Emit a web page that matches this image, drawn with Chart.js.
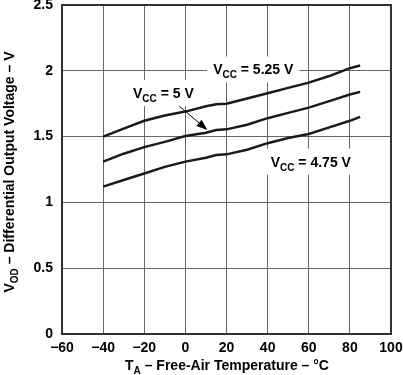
<!DOCTYPE html>
<html><head><meta charset="utf-8">
<script src="https://cdn.jsdelivr.net/npm/chart.js@4/dist/chart.umd.min.js"></script>
<style>html,body{margin:0;padding:0;background:#fff}#wrap{width:403px;height:375px}</style>
</head><body><div id="wrap"><canvas id="c" width="403" height="375"></canvas></div>
<script>
const temps525 = [-40,-30,-20,-10,0,10,15,20,30,40,50,60,70,80,85];
const vcc525   = [1.50,1.56,1.62,1.66,1.69,1.73,1.745,1.75,1.79,1.83,1.87,1.91,1.96,2.02,2.04];
const temps5   = [-40,-30,-20,-10,0,10,15,20,30,40,50,60,70,80,85];
const vcc5     = [1.31,1.37,1.42,1.46,1.505,1.53,1.55,1.555,1.59,1.64,1.68,1.72,1.77,1.82,1.84];
const temps475 = [-40,-30,-20,-10,0,10,15,20,30,40,50,60,70,80,85];
const vcc475   = [1.12,1.17,1.22,1.27,1.31,1.34,1.36,1.365,1.40,1.45,1.49,1.52,1.57,1.62,1.65];
const xTicks = [-60,-40,-20,0,20,40,60,80,100];
const yTicks = [0,0.5,1,1.5,2,2.5];
const labels = [
  {main:'V', sub:'CC', rest:' = 5.25 V', t:33, v:2.01},
  {main:'V', sub:'CC', rest:' = 5 V', t:-10.7, v:1.83},
  {main:'V', sub:'CC', rest:' = 4.75 V', t:61, v:1.31}
];
const arrow = {t0:-2.9, v0:1.73, t1:10.7, v1:1.55};

const toPts = (xs, ys) => xs.map((x,i)=>({x:x, y:ys[i]}));
const FONT = '"Liberation Sans", Arial, sans-serif';

const annot = {
  id:'annot',
  afterDatasetsDraw(chart){
    const ctx = chart.ctx, xs = chart.scales.x, ys = chart.scales.y;
    ctx.save();
    labels.forEach(l=>{
      const cx = xs.getPixelForValue(l.t), cy = ys.getPixelForValue(l.v);
      ctx.font = 'bold 14px ' + FONT;
      const wm = ctx.measureText(l.main).width;
      const wr = ctx.measureText(l.rest).width;
      ctx.font = 'bold 10px ' + FONT;
      const ws = ctx.measureText(l.sub).width;
      const w = wm + ws + wr;
      ctx.fillStyle = '#fff';
      ctx.fillRect(cx - w/2 - 6, cy - 13, w + 12, 26);
      ctx.fillStyle = '#000';
      ctx.textBaseline = 'alphabetic';
      ctx.textAlign = 'left';
      let x = cx - w/2;
      ctx.font = 'bold 14px ' + FONT;
      ctx.fillText(l.main, x, cy + 5); x += wm;
      ctx.font = 'bold 10px ' + FONT;
      ctx.fillText(l.sub, x, cy + 9); x += ws;
      ctx.font = 'bold 14px ' + FONT;
      ctx.fillText(l.rest, x, cy + 5);
    });
    const x0 = xs.getPixelForValue(arrow.t0), y0 = ys.getPixelForValue(arrow.v0);
    const x1 = xs.getPixelForValue(arrow.t1), y1 = ys.getPixelForValue(arrow.v1);
    const ang = Math.atan2(y1-y0, x1-x0);
    ctx.strokeStyle = '#000'; ctx.lineWidth = 1;
    ctx.beginPath(); ctx.moveTo(x0,y0);
    ctx.lineTo(x1 - 8*Math.cos(ang), y1 - 8*Math.sin(ang)); ctx.stroke();
    ctx.fillStyle = '#000';
    ctx.beginPath();
    ctx.moveTo(x1,y1);
    ctx.lineTo(x1 - 11*Math.cos(ang) + 4*Math.sin(ang), y1 - 11*Math.sin(ang) - 4*Math.cos(ang));
    ctx.lineTo(x1 - 11*Math.cos(ang) - 4*Math.sin(ang), y1 - 11*Math.sin(ang) + 4*Math.cos(ang));
    ctx.closePath(); ctx.fill();
    ctx.restore();
  },
  afterDraw(chart){
    const ctx = chart.ctx, a = chart.chartArea;
    ctx.save();
    ctx.strokeStyle = '#333'; ctx.lineWidth = 2;
    ctx.strokeRect(a.left, a.top, a.right-a.left, a.bottom-a.top);
    ctx.fillStyle = '#000';
    ctx.textBaseline = 'alphabetic'; ctx.textAlign = 'left';
    const xparts = [['T',14,0],['A',10,4],[' \u2013 Free-Air Temperature \u2013 \u00B0C',14,0]];
    drawParts(ctx, xparts, 227, 370);
    ctx.translate(14, 172);
    ctx.rotate(-Math.PI/2);
    const yparts = [['V',14,0],['OD',10,4],[' \u2013 Differential Output Voltage \u2013 V',14,0]];
    drawParts(ctx, yparts, 0, 0);
    ctx.restore();
  }
};
function drawParts(ctx, parts, cx, y){
  let w = 0;
  parts.forEach(p=>{ ctx.font = 'bold '+p[1]+'px '+FONT; p.w = ctx.measureText(p[0]).width; w += p.w; });
  let x = cx - w/2;
  parts.forEach(p=>{ ctx.font = 'bold '+p[1]+'px '+FONT; ctx.fillText(p[0], x, y + p[2]); x += p.w; });
}

const ds = (data) => ({data, borderColor:'#1a1a1a', borderWidth:2.5, pointRadius:0, tension:0, fill:false});

new Chart(document.getElementById('c'), {
  type:'line',
  data:{datasets:[ds(toPts(temps525,vcc525)), ds(toPts(temps5,vcc5)), ds(toPts(temps475,vcc475))]},
  options:{
    responsive:false, animation:false, devicePixelRatio:1,
    layout:{padding:{top:5,right:12,left:0,bottom:0}},
    plugins:{legend:{display:false}, tooltip:{enabled:false}},
    scales:{
      x:{type:'linear', min:-60, max:100,
        afterBuildTicks(s){ s.ticks = xTicks.map(v=>({value:v})); },
        afterFit(s){ s.height = 41; s.paddingLeft = 0; s.paddingRight = 0; },
        grid:{color:'#666', lineWidth:1, drawTicks:false},
        border:{display:false},
        ticks:{color:'#000', padding:6, font:{family:FONT, size:14, weight:'bold'}, maxRotation:0,
          callback:v=>String(v).replace('-','\u2212')}
      },
      y:{type:'linear', min:0, max:2.5,
        afterBuildTicks(s){ s.ticks = yTicks.map(v=>({value:v})); },
        afterFit(s){ s.width = 62; s.paddingTop = 0; s.paddingBottom = 0; },
        grid:{color:'#666', lineWidth:1, drawTicks:false},
        border:{display:false},
        ticks:{color:'#000', padding:9, font:{family:FONT, size:14, weight:'bold'}, callback:v=>String(v)}
      }
    }
  },
  plugins:[annot]
});
</script></body></html>
